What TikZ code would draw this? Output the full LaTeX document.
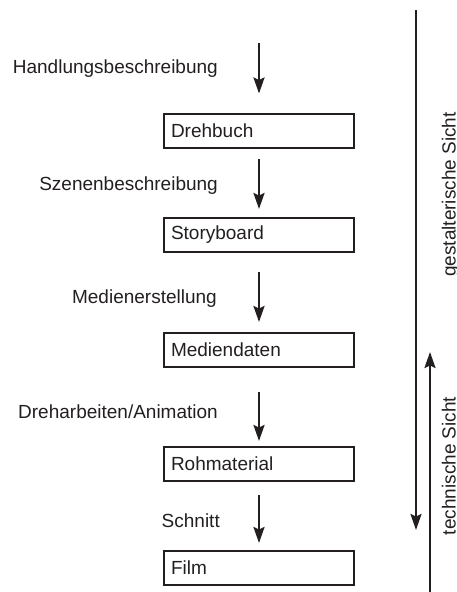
\documentclass[tikz,border=0pt]{standalone}
\usepackage{fontspec}
\setmainfont{Liberation Sans}
\usetikzlibrary{arrows.meta}
\definecolor{ink}{RGB}{35,31,32}
\begin{document}
\begin{tikzpicture}[x=1pt,y=-1pt,
  txt/.style={font=\fontsize{19}{22}\selectfont, text=ink},
  stage/.style={txt, draw=ink, line width=2pt, minimum width=190pt,
    minimum height=34pt, text width=176pt, inner xsep=7pt, inner ysep=0pt,
    align=left},
  lab/.style={txt, inner sep=0pt, anchor=base east},
  side/.style={txt, inner sep=0pt, anchor=base, rotate=90},
  tip/.style={-{Stealth[length=16pt,width=11pt,inset=2.5pt]}},
  flow/.style={draw=ink, line width=2.4pt, tip},
  span/.style={draw=ink, line width=2pt, tip}]
\useasboundingbox (0,0) rectangle (457,592);

% production stages
\node[stage] (b1) at (259,130.5) {Drehbuch};
\node[stage] (b2) at (259,235) {Storyboard};
\node[stage] (b3) at (259,349.5) {Mediendaten};
\node[stage] (b4) at (259,464) {Rohmaterial};
\node[stage] (b5) at (259,568) {Film};

% steps between the stages
\coordinate (a0) at (259,43);
\draw[flow, shorten >=19pt] (a0) -- (b1.north);
\draw[flow, shorten <=10pt, shorten >=8pt] (b1.south) -- (b2.north);
\draw[flow, shorten <=19pt, shorten >=9.5pt] (b2.south) -- (b3.north);
\draw[flow, shorten <=24.5pt, shorten >=5pt] (b3.south) -- (b4.north);
\draw[flow, shorten <=13pt, shorten >=7pt] (b4.south) -- (b5.north);

\node[lab] (l1) at (218,73) {Handlungsbeschreibung};
\node[lab] (l2) at (218,190) {Szenenbeschreibung};
\node[lab] (l3) at (217,303) {Medienerstellung};
\node[lab] (l4) at (218,418) {Dreharbeiten/Animation};
\node[lab] (l5) at (220,527) {Schnitt};

% viewpoints along the process
\coordinate (gTop) at (416,10);
\coordinate (gEnd) at (416,530);
\draw[span] (gTop) -- (gEnd);
\node[side] (gs) at (455.5,194.5) {gestalterische Sicht};

\coordinate (tBot) at (430,592);
\coordinate (tEnd) at (430,352);
\draw[span] (tBot) -- (tEnd);
\node[side] (ts) at (455.5,466) {technische Sicht};
\end{tikzpicture}
\end{document}
